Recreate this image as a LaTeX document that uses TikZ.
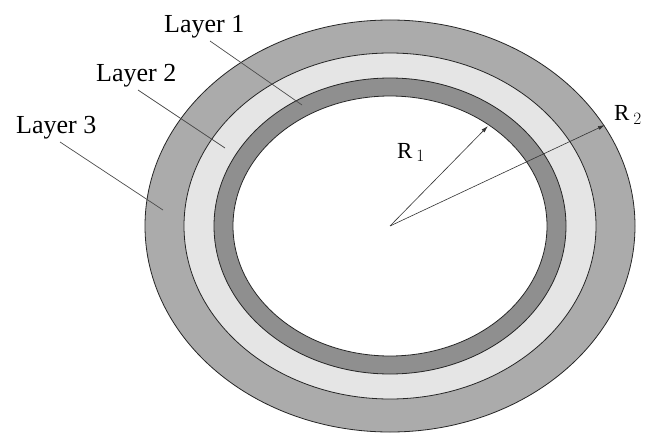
\documentclass[tikz,border=0pt]{standalone}
\usepackage{fontspec}
\setmainfont{Liberation Serif}
\begin{document}
\begin{tikzpicture}[x=1pt,y=-1pt,
  ring/.style={draw=black!85,line width=0.8pt},
  leader/.style={draw=black!70,line width=0.7pt},
  lbl/.style={anchor=base west,inner sep=0pt,font=\fontsize{26}{26}\selectfont},
  rlbl/.style={anchor=base west,inner sep=0pt,font=\fontsize{23}{23}\selectfont},
  radius/.style={draw=black!80,line width=0.6pt,-{Latex[length=7pt,width=4pt]}}]
\usetikzlibrary{arrows.meta}
\useasboundingbox[fill=white] (0,0) rectangle (652,433);
\coordinate (c) at (390,226);
\fill[ring,fill=black!33] (c) ellipse [x radius=245,y radius=206];
\fill[ring,fill=black!10] (c) ellipse [x radius=206,y radius=173];
\fill[ring,fill=black!44] (c) ellipse [x radius=176,y radius=148];
\fill[ring,fill=white] (c) ellipse [x radius=157,y radius=130];
% labels
\node[lbl] (l1) at (164,33) {Layer 1};
\node[lbl] (l2) at (96,82) {Layer 2};
\node[lbl] (l3) at (16,133) {Layer 3};
\coordinate (l1s) at (210,41);
\coordinate (l1e) at (302,105);
\coordinate (l2s) at (138,90);
\coordinate (l2e) at (225,148);
\coordinate (l3s) at (60,142);
\coordinate (l3e) at (163,210);
\draw[leader] (l1s) -- (l1e);
\draw[leader] (l2s) -- (l2e);
\draw[leader] (l3s) -- (l3e);
% radii
\coordinate (r1) at (488,126);
\coordinate (r2) at (605,125);
\draw[radius] (c) -- (r1);
\draw[radius] (c) -- (r2);
\node[rlbl] (R1) at (397,158) {R\,$_{\fontsize{15}{15}\selectfont 1}$};
\node[rlbl] (R2) at (614,121) {R\,$_{\fontsize{15}{15}\selectfont 2}$};
\end{tikzpicture}
\end{document}
